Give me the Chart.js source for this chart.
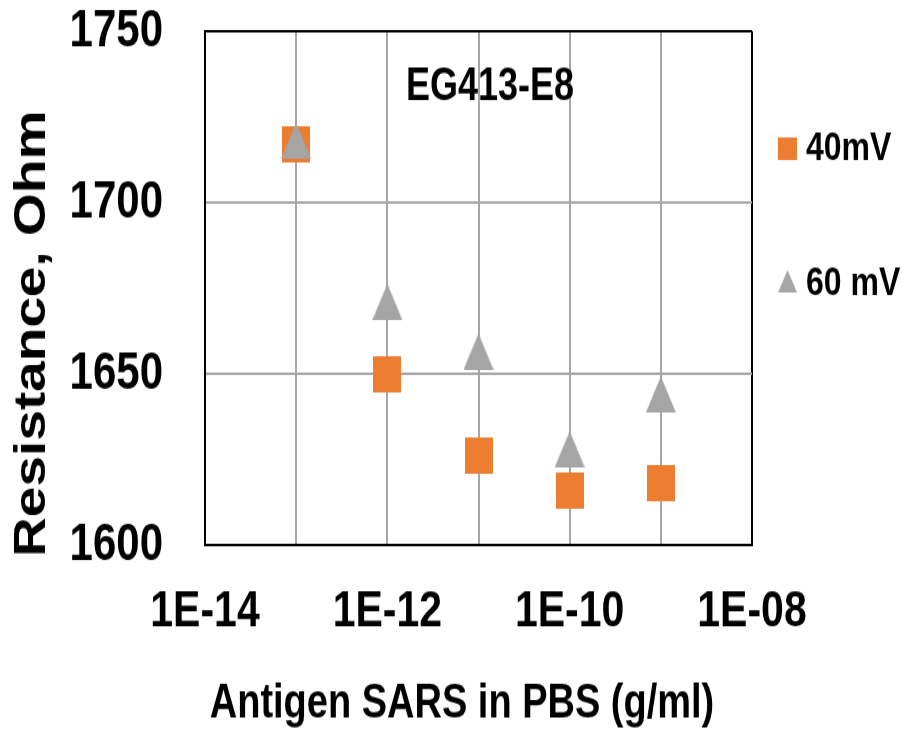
<!DOCTYPE html>
<html>
<head>
<meta charset="utf-8">
<title>EG413-E8</title>
<script src="https://cdn.jsdelivr.net/npm/chart.js@4"></script>
<style>
  html, body { margin: 0; padding: 0; background: #fff; }
  #page { width: 906px; height: 734px; overflow: hidden; }
  /* the reference is an Excel chart stretched vertically, so stretch the canvas too */
  #wrap { width: 906px; height: 587px; transform: scaleY(1.25); transform-origin: 0 0; }
</style>
</head>
<body>
<div id="page"><div id="wrap"><canvas id="chart" width="906" height="587"></canvas></div></div>
<script>
// data
const concentrations = [1e-13, 1e-12, 1e-11, 1e-10, 1e-9];   // g/ml
const resistance40mV = [1717, 1650, 1626, 1616, 1618];
const resistance60mV = [1718, 1671, 1656.5, 1628, 1644];
const xTicks = [1e-14, 1e-13, 1e-12, 1e-11, 1e-10, 1e-9, 1e-8];
const yTicks = [1600, 1650, 1700, 1750];
const seriesNames = ['40mV', '60 mV'];
const chartTitle = 'EG413-E8';
const xTitle = 'Antigen SARS in PBS (g/ml)';
const yTitle = 'Resistance, Ohm';

const ORANGE = '#ED7D31';
const GREY = '#A5A5A5';
const FONT = '"Liberation Sans", Arial, sans-serif';

function markerImage(kind, w, h, color) {
  const c = document.createElement('canvas');
  c.width = w;
  c.height = h;
  const g = c.getContext('2d');
  g.fillStyle = color;
  if (kind === 'square') {
    g.fillRect(0, 0, w, h);
  } else {
    g.beginPath();
    g.moveTo(w / 2, 0);
    g.lineTo(w, h);
    g.lineTo(0, h);
    g.closePath();
    g.fill();
  }
  return c;
}

const squareMarker = markerImage('square', 28, 29, ORANGE);
const triangleMarker = markerImage('triangle', 30, 29, GREY);

function toPoints(xs, ys) {
  return xs.map((x, i) => ({ x: x, y: ys[i] }));
}

// title, legend and axis titles drawn at fixed spots like in the original
const extras = {
  id: 'extras',
  afterDraw(chart) {
    const ctx = chart.ctx;
    const area = chart.chartArea;
    ctx.save();
    ctx.fillStyle = '#000';
    ctx.textBaseline = 'alphabetic';

    ctx.font = 'bold 36px ' + FONT;
    ctx.textAlign = 'center';
    ctx.fillText(chartTitle, 490, 80);

    ctx.font = 'bold 38px ' + FONT;
    ctx.fillText(xTitle, 462, 574);

    ctx.save();
    ctx.translate(45, 267);
    ctx.rotate(-Math.PI / 2);
    ctx.font = 'bold 44px ' + FONT;
    ctx.fillText(yTitle, 0, 0);
    ctx.restore();

    // legend
    ctx.textAlign = 'left';
    ctx.font = 'bold 32px ' + FONT;
    ctx.drawImage(squareMarker, area.right + 26, 110, 19, 18);
    ctx.fillText(seriesNames[0], area.right + 54, 128);
    ctx.drawImage(triangleMarker, area.right + 26, 216, 19, 18);
    ctx.fillText(seriesNames[1], area.right + 54, 236);
    ctx.restore();
  }
};

new Chart(document.getElementById('chart'), {
  type: 'scatter',
  data: {
    datasets: [
      {
        label: seriesNames[0],
        data: toPoints(concentrations, resistance40mV),
        pointStyle: squareMarker,
        backgroundColor: ORANGE,
        order: 1
      },
      {
        label: seriesNames[1],
        data: toPoints(concentrations, resistance60mV),
        pointStyle: triangleMarker,
        backgroundColor: GREY,
        order: 0
      }
    ]
  },
  options: {
    responsive: false,
    animation: false,
    devicePixelRatio: 1,
    layout: { padding: { left: 0, right: 154, top: 25, bottom: 0 } },
    plugins: {
      legend: { display: false },
      tooltip: { enabled: false }
    },
    scales: {
      x: {
        type: 'logarithmic',
        min: xTicks[0],
        max: xTicks[xTicks.length - 1],
        afterBuildTicks: scale => { scale.ticks = xTicks.map(v => ({ value: v })); },
        afterFit: scale => {
          scale.height = 151;
          scale.paddingLeft = 0;
          scale.paddingRight = 0;
        },
        grid: {
          color: c => (c.tick && c.tick.value === xTicks[xTicks.length - 1]) ? '#000' : '#A6A6A6',
          lineWidth: 2,
          drawTicks: false
        },
        border: { color: '#000', width: 2 },
        ticks: {
          autoSkip: false,
          maxRotation: 0,
          padding: 29,
          color: '#000',
          font: { family: FONT, size: 41, weight: 'bold' },
          callback: value => {
            const exp = Math.round(Math.log10(value));
            if (exp % 2 !== 0) return '';
            return '1E-' + String(-exp).padStart(2, '0');
          }
        }
      },
      y: {
        min: yTicks[0],
        max: yTicks[yTicks.length - 1],
        afterBuildTicks: scale => { scale.ticks = yTicks.map(v => ({ value: v })); },
        afterFit: scale => {
          scale.width = 205;
          scale.paddingTop = 0;
          scale.paddingBottom = 0;
        },
        grid: {
          color: c => (c.tick && c.tick.value === yTicks[yTicks.length - 1]) ? '#000' : '#A6A6A6',
          lineWidth: 2,
          drawTicks: false
        },
        border: { color: '#000', width: 2 },
        ticks: {
          padding: 42,
          color: '#000',
          font: { family: FONT, size: 42, weight: 'bold' },
          callback: value => String(value)
        }
      }
    }
  },
  plugins: [extras]
});
</script>
</body>
</html>
